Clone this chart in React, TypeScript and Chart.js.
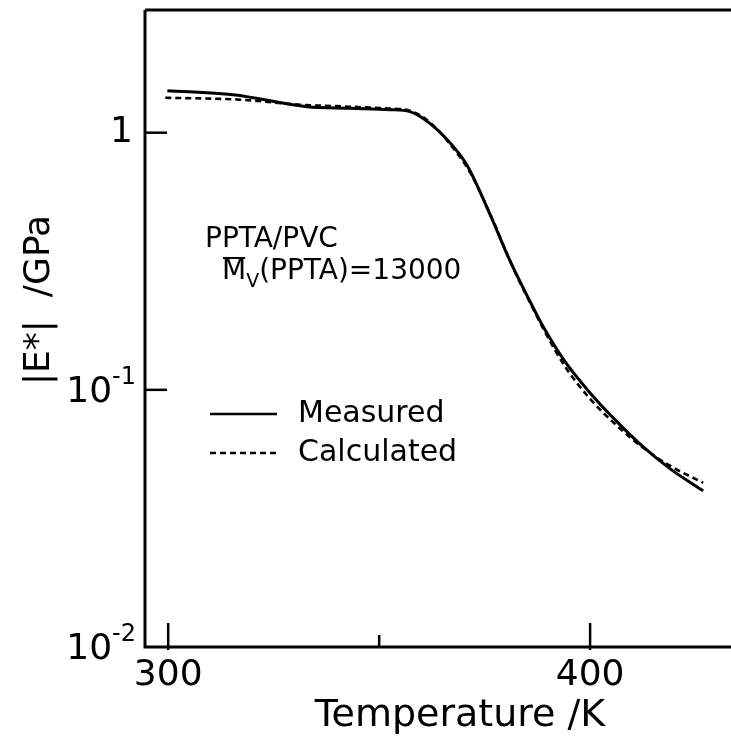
import React, { useEffect, useRef } from "react";
import { Chart, registerables } from "chart.js";
Chart.register(...registerables);

const measuredT = [299.8, 315.4, 332.9, 343.1, 352.6, 357.3, 362.1, 366.8, 370.9, 376.3, 381.0, 385.8, 388.9, 393.6, 400.0, 406.4, 412.6, 419.0, 426.8];
const measuredE = [1.457, 1.405, 1.262, 1.244, 1.229, 1.207, 1.084, 0.914, 0.744, 0.48, 0.318, 0.22, 0.1758, 0.132, 0.0973, 0.0751, 0.06, 0.0493, 0.0405];
const calculatedT = [299.3, 317.1, 331.3, 343.1, 352.6, 357.3, 362.1, 367.3, 371.6, 376.8, 381.5, 386.3, 389.3, 394.1, 400.0, 406.4, 412.6, 419.0, 426.8];
const calculatedE = [1.368, 1.344, 1.285, 1.262, 1.24, 1.218, 1.094, 0.882, 0.699, 0.463, 0.304, 0.21, 0.1681, 0.1229, 0.0923, 0.0724, 0.0595, 0.0506, 0.0435];

const xMajorTicks = [300, 400];
const xMinorTicks = [350];
const yTicks = [1, 0.1];
const yTickLabels = [
  { v: 1, base: "1", exp: "" },
  { v: 0.1, base: "10", exp: "-1" },
  { v: 0.01, base: "10", exp: "-2" },
];
const xLabel = "Temperature /K";
const yLabel = "|E*|  /GPa";
const note1 = "PPTA/PVC";
const legendNames = ["Measured", "Calculated"];

const FONT = "'DejaVu Sans', sans-serif";

const decorPlugin = {
  id: "decor",
  afterDraw(chart: any) {
    const ctx = chart.ctx;
    const xs = chart.scales.x;
    const ys = chart.scales.y;
    const a = chart.chartArea;
    ctx.save();
    ctx.strokeStyle = "#000";
    ctx.fillStyle = "#000";
    ctx.lineCap = "butt";
    // axes frame
    ctx.lineWidth = 3;
    ctx.beginPath();
    ctx.moveTo(a.left, a.top);
    ctx.lineTo(a.right, a.top);
    ctx.moveTo(a.left, a.top);
    ctx.lineTo(a.left, a.bottom);
    ctx.lineTo(a.right, a.bottom);
    ctx.stroke();
    // x ticks
    ctx.lineWidth = 2.5;
    xMajorTicks.forEach((t) => {
      const px = xs.getPixelForValue(t);
      ctx.beginPath();
      ctx.moveTo(px, a.bottom + 3);
      ctx.lineTo(px, a.bottom - 24);
      ctx.stroke();
    });
    xMinorTicks.forEach((t) => {
      const px = xs.getPixelForValue(t);
      ctx.beginPath();
      ctx.moveTo(px, a.bottom);
      ctx.lineTo(px, a.bottom - 12);
      ctx.stroke();
    });
    yTicks.forEach((t) => {
      const py = ys.getPixelForValue(t);
      ctx.beginPath();
      ctx.moveTo(a.left, py);
      ctx.lineTo(a.left + 22, py);
      ctx.stroke();
    });
    // x tick labels
    ctx.font = `36px ${FONT}`;
    ctx.textAlign = "center";
    ctx.textBaseline = "middle";
    xMajorTicks.forEach((t) => {
      ctx.fillText(String(t), xs.getPixelForValue(t), a.bottom + 29);
    });
    // y tick labels
    yTickLabels.forEach((l) => {
      const py = ys.getPixelForValue(l.v);
      ctx.textBaseline = "middle";
      if (!l.exp) {
        ctx.font = `36px ${FONT}`;
        ctx.textAlign = "right";
        ctx.fillText(l.base, a.left - 12, py);
      } else {
        ctx.font = `24px ${FONT}`;
        ctx.textAlign = "right";
        const expW = ctx.measureText(l.exp).width;
        ctx.fillText(l.exp, a.left - 9, py - 12);
        ctx.font = `36px ${FONT}`;
        ctx.fillText(l.base, a.left - 9 - expW, py + 3);
      }
    });
    // x title
    ctx.font = `38px ${FONT}`;
    ctx.textAlign = "center";
    ctx.textBaseline = "middle";
    ctx.fillText(xLabel, 460, 716);
    // y title
    ctx.save();
    ctx.translate(40, 300);
    ctx.rotate(-Math.PI / 2);
    ctx.font = `36px ${FONT}`;
    ctx.fillText(yLabel, 0, 0);
    ctx.restore();
    // annotation
    ctx.font = `28px ${FONT}`;
    ctx.textAlign = "left";
    ctx.textBaseline = "middle";
    ctx.fillText(note1, 205, 240);
    let x = 222;
    const y2 = 272;
    ctx.fillText("M", x, y2);
    const mW = ctx.measureText("M").width;
    ctx.lineWidth = 2;
    ctx.beginPath();
    ctx.moveTo(x + 1, y2 - 14);
    ctx.lineTo(x + mW - 1, y2 - 14);
    ctx.stroke();
    x += mW;
    ctx.font = `19px ${FONT}`;
    ctx.fillText("V", x, y2 + 10);
    x += ctx.measureText("V").width;
    ctx.font = `28px ${FONT}`;
    ctx.fillText("(PPTA)=13000", x, y2);
    // legend
    ctx.lineWidth = 2.5;
    ctx.beginPath();
    ctx.moveTo(210, 414);
    ctx.lineTo(277, 414);
    ctx.stroke();
    ctx.setLineDash([6, 4]);
    ctx.beginPath();
    ctx.moveTo(210, 453);
    ctx.lineTo(277, 453);
    ctx.stroke();
    ctx.setLineDash([]);
    ctx.font = `30px ${FONT}`;
    ctx.fillText(legendNames[0], 298, 414);
    ctx.fillText(legendNames[1], 298, 453);
    ctx.restore();
  },
};

export default function App() {
  const ref = useRef<HTMLCanvasElement | null>(null);
  useEffect(() => {
    if (!ref.current) return;
    const chart = new Chart(ref.current, {
      type: "line",
      data: {
        datasets: [
          {
            label: legendNames[0],
            data: measuredT.map((t, i) => ({ x: t, y: measuredE[i] })),
            borderColor: "#000",
            borderWidth: 3,
            pointRadius: 0,
            cubicInterpolationMode: "monotone",
            fill: false,
          },
          {
            label: legendNames[1],
            data: calculatedT.map((t, i) => ({ x: t, y: calculatedE[i] })),
            borderColor: "#000",
            borderWidth: 2.6,
            borderDash: [6, 4],
            pointRadius: 0,
            cubicInterpolationMode: "monotone",
            fill: false,
          },
        ],
      },
      options: {
        animation: false,
        responsive: false,
        devicePixelRatio: 1,
        layout: { padding: { left: 145, top: 10, right: 0, bottom: 96 } },
        plugins: { legend: { display: false }, tooltip: { enabled: false } },
        scales: {
          x: { type: "linear", min: 294.5, max: 433.4, display: false },
          y: { type: "logarithmic", min: 0.01, max: 3.0, display: false },
        },
      },
      plugins: [decorPlugin],
    });
    return () => chart.destroy();
  }, []);
  return (
    <div style={{ position: "fixed", left: 0, top: 0, width: 731, height: 743, background: "#fff" }}>
      <canvas ref={ref} width={731} height={743} />
    </div>
  );
}
